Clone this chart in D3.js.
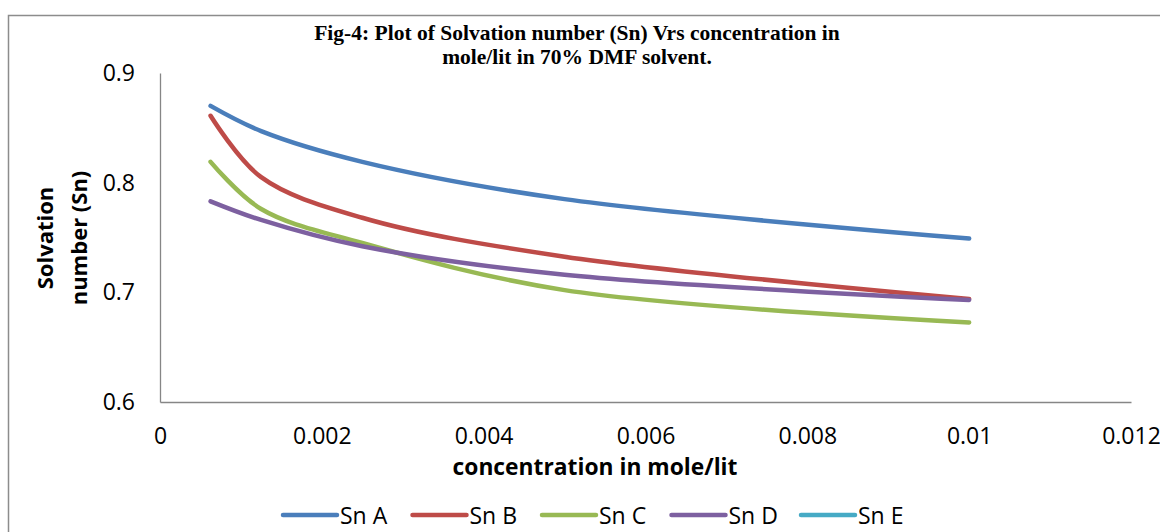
<!DOCTYPE html>
<html>
<head>
<meta charset="utf-8">
<script src="https://cdn.jsdelivr.net/npm/d3@7"></script>
<style>
  body { margin: 0; background: #fff; }
  svg { display: block; }
</style>
</head>
<body>
<div id="chart"></div>
<script>
// donnees
const concentration = [0.000625, 0.00125, 0.0025, 0.005, 0.01];
const snA = [0.870, 0.847, 0.819, 0.785, 0.749];
const snB = [0.861, 0.805, 0.768, 0.7325, 0.694];
const snC = [0.819, 0.776, 0.745, 0.702, 0.6725];
const snD = [0.783, 0.766, 0.742, 0.716, 0.693];
const snE = []; // present dans la legende seulement
const seriesNames = ["Sn A", "Sn B", "Sn C", "Sn D", "Sn E"];
const xTicks = [0, 0.002, 0.004, 0.006, 0.008, 0.01, 0.012];
const xTickLabels = ["0", "0.002", "0.004", "0.006", "0.008", "0.01", "0.012"];
const yTicks = [0.6, 0.7, 0.8, 0.9];
const yTickLabels = ["0.6", "0.7", "0.8", "0.9"];

const colors = ["#4a7ebb", "#be4b48", "#98b954", "#7d60a0", "#46aac5"];
const allSeries = [snA, snB, snC, snD, snE];

const W = 1160, H = 532;
const svg = d3.select("#chart").append("svg")
    .attr("width", W)
    .attr("height", H);

// cadre exterieur
svg.append("rect")
    .attr("x", 8.5).attr("y", 15.5)
    .attr("width", W).attr("height", H)
    .attr("fill", "none")
    .attr("stroke", "#8c8c8c")
    .attr("stroke-width", 1.5);

// titre
const title = svg.append("text")
    .attr("text-anchor", "middle")
    .attr("font-family", "'Liberation Serif', 'Times New Roman', serif")
    .attr("font-weight", "bold")
    .attr("font-size", 21.5)
    .attr("fill", "#000");
title.append("tspan").attr("x", 577).attr("y", 40)
    .text("Fig-4: Plot of Solvation number (Sn) Vrs concentration in");
title.append("tspan").attr("x", 577).attr("y", 64)
    .text("mole/lit in 70% DMF solvent.");

// echelles
let x = d3.scaleLinear().domain([0, 0.012]).range([160, 1131]);
let y = d3.scaleLinear().domain([0.6, 0.9]).range([402, 73]);

const font = "'Open Sans', sans-serif";

// axe y
const gy = svg.append("g")
    .attr("transform", "translate(160,0)")
    .call(d3.axisLeft(y).tickValues(yTicks)
        .tickFormat((d, i) => yTickLabels[i])
        .tickSize(0).tickSizeOuter(0).tickPadding(25));
gy.select(".domain").attr("stroke", "#868686").attr("stroke-width", 1.3);
gy.selectAll("text")
    .attr("font-family", font)
    .attr("font-size", 23)
    .attr("fill", "#000");

// axe x
const gx = svg.append("g")
    .attr("transform", "translate(0,402)")
    .call(d3.axisBottom(x).tickValues(xTicks)
        .tickFormat((d, i) => xTickLabels[i])
        .tickSize(0).tickSizeOuter(0).tickPadding(26));
gx.select(".domain").attr("stroke", "#868686").attr("stroke-width", 1.3);
gx.selectAll("text")
    .attr("font-family", font)
    .attr("font-size", 23)
    .attr("fill", "#000");

// titres des axes
svg.append("text")
    .attr("x", 595).attr("y", 475)
    .attr("text-anchor", "middle")
    .attr("font-family", font)
    .attr("font-weight", "bold")
    .attr("font-size", 22.8)
    .text("concentration in mole/lit");

const yTitle = svg.append("text")
    .attr("transform", "translate(0,238) rotate(-90)")
    .attr("text-anchor", "middle")
    .attr("font-family", font)
    .attr("font-weight", "bold")
    .attr("font-size", 22);
yTitle.append("tspan").attr("x", 0).attr("y", 53).text("Solvation");
yTitle.append("tspan").attr("x", 0).attr("y", 87).text("number (Sn)");

// courbes lissees
const line = d3.line()
    .x(d => x(d[0]))
    .y(d => y(d[1]))
    .curve(d3.curveCatmullRom.alpha(0.5));

allSeries.forEach((vals, i) => {
    if (vals.length === 0) return;
    const pts = vals.map((v, j) => [concentration[j], v]);
    svg.append("path")
        .datum(pts)
        .attr("d", line)
        .attr("fill", "none")
        .attr("stroke", colors[i])
        .attr("stroke-width", 4.5)
        .attr("stroke-linecap", "round")
        .attr("stroke-linejoin", "round");
});

// legende
const legend = svg.append("g");
seriesNames.forEach((name, i) => {
    const lx = 283 + i * 129.5;
    legend.append("line")
        .attr("x1", lx).attr("x2", lx + 54)
        .attr("y1", 515).attr("y2", 515)
        .attr("stroke", colors[i])
        .attr("stroke-width", 4.5)
        .attr("stroke-linecap", "round");
    legend.append("text")
        .attr("x", lx + 57).attr("y", 523.5)
        .attr("font-family", font)
        .attr("font-size", 23)
        .text(name);
});
</script>
</body>
</html>
